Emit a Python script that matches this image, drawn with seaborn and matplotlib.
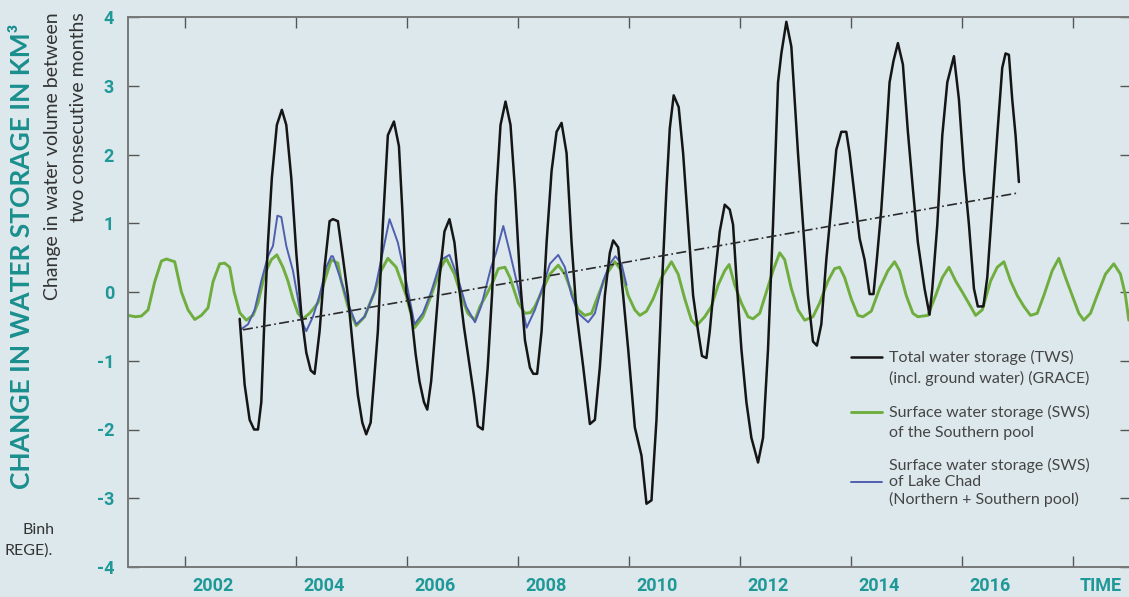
import numpy as np
import pandas as pd
import matplotlib
matplotlib.use("Agg")
import matplotlib.pyplot as plt
import seaborn as sns

# time axis is decimal years, values are km3 change between two consecutive months

# Total water storage (GRACE)
tws_t = [2002.48, 2002.57, 2002.66, 2002.74, 2002.81, 2002.87, 2002.93, 2002.99, 2003.06, 2003.15,
         2003.24, 2003.32, 2003.41, 2003.50, 2003.59, 2003.68, 2003.76, 2003.83, 2003.92, 2004.01,
         2004.10, 2004.16, 2004.25, 2004.34, 2004.43, 2004.52, 2004.61, 2004.69, 2004.76, 2004.84,
         2004.90, 2004.97, 2005.06, 2005.15, 2005.26, 2005.35, 2005.41, 2005.48, 2005.57, 2005.65,
         2005.72, 2005.80, 2005.86, 2005.93, 2006.01, 2006.08, 2006.17, 2006.26, 2006.35, 2006.43,
         2006.52, 2006.61, 2006.70, 2006.77, 2006.86, 2006.95, 2007.03, 2007.10, 2007.18, 2007.27,
         2007.36, 2007.44, 2007.53, 2007.62, 2007.71, 2007.77, 2007.84, 2007.92, 2008.01, 2008.10,
         2008.19, 2008.28, 2008.37, 2008.46, 2008.55, 2008.67, 2008.79, 2008.88, 2008.97, 2009.06,
         2009.15, 2009.21, 2009.30, 2009.39, 2009.48, 2009.60, 2009.72, 2009.81, 2009.90, 2009.99,
         2010.08, 2010.17, 2010.23, 2010.30, 2010.39, 2010.47, 2010.56, 2010.65, 2010.74, 2010.81,
         2010.89, 2010.95, 2011.04, 2011.13, 2011.22, 2011.31, 2011.37, 2011.43, 2011.52, 2011.61,
         2011.70, 2011.82, 2011.91, 2012.00, 2012.09, 2012.18, 2012.24, 2012.33, 2012.42, 2012.48,
         2012.54, 2012.63, 2012.72, 2012.81, 2012.88, 2012.96, 2013.05, 2013.14, 2013.23, 2013.32,
         2013.41, 2013.47, 2013.56, 2013.65, 2013.74, 2013.83, 2013.90, 2013.96, 2014.04, 2014.11,
         2014.19, 2014.26, 2014.34, 2014.43, 2014.52, 2014.61, 2014.70, 2014.82, 2014.91, 2014.96,
         2015.05, 2015.14, 2015.23, 2015.35, 2015.44, 2015.53, 2015.62, 2015.71, 2015.78, 2015.88,
         2015.95, 2016.04, 2016.13, 2016.22, 2016.28, 2016.34, 2016.40, 2016.46, 2016.52]
tws_v = [-0.39, -1.35, -1.86, -2.00, -2.00, -1.60, -0.31, 0.72, 1.66, 2.43,
         2.65, 2.43, 1.66, 0.57, -0.31, -0.88, -1.14, -1.19, -0.57, 0.36,
         1.03, 1.06, 1.03, 0.50, -0.05, -0.80, -1.50, -1.90, -2.07, -1.90,
         -1.30, -0.57, 0.98, 2.28, 2.48, 2.12, 1.20, 0.00, -0.31, -0.90,
         -1.30, -1.60, -1.71, -1.30, -0.50, 0.20, 0.88, 1.06, 0.72, 0.10,
         -0.50, -1.00, -1.50, -1.95, -2.00, -1.09, 0.00, 1.40, 2.43, 2.77,
         2.43, 1.50, 0.21, -0.70, -1.10, -1.19, -1.19, -0.57, 0.72, 1.76,
         2.33, 2.46, 2.02, 0.72, -0.31, -1.09, -1.92, -1.86, -1.09, -0.05,
         0.57, 0.75, 0.65, -0.05, -0.83, -1.97, -2.38, -3.08, -3.03, -1.86,
         -0.05, 1.50, 2.38, 2.86, 2.69, 2.02, 0.98, -0.05, -0.57, -0.93,
         -0.96, -0.57, 0.21, 0.88, 1.27, 1.20, 0.98, 0.21, -0.83, -1.60,
         -2.12, -2.48, -2.12, -0.83, 0.98, 3.05, 3.47, 3.93, 3.57, 2.80,
         2.02, 0.98, -0.05, -0.72, -0.78, -0.47, 0.47, 1.24, 2.07, 2.33,
         2.33, 2.02, 1.40, 0.78, 0.47, -0.03, -0.03, 0.47, 1.19, 2.02,
         3.05, 3.36, 3.62, 3.31, 2.33, 1.50, 0.72, 0.05, -0.33, 0.05,
         0.98, 2.28, 3.05, 3.43, 2.80, 1.76, 0.98, 0.05, -0.21, -0.21,
         0.21, 1.24, 2.28, 3.26, 3.47, 3.45, 2.80, 2.28, 1.60]

# Surface water storage, Southern pool
sws_s_t = [2000.47, 2000.60, 2000.71, 2000.83, 2000.95, 2001.07, 2001.16, 2001.31, 2001.43, 2001.55,
           2001.67, 2001.79, 2001.91, 2002.00, 2002.12, 2002.21, 2002.30, 2002.38, 2002.48, 2002.60,
           2002.72, 2002.81, 2002.93, 2003.05, 2003.15, 2003.26, 2003.35, 2003.44, 2003.53, 2003.62,
           2003.74, 2003.89, 2004.01, 2004.13, 2004.25, 2004.31, 2004.43, 2004.58, 2004.73, 2004.91,
           2005.03, 2005.15, 2005.30, 2005.48, 2005.63, 2005.78, 2005.93, 2006.11, 2006.20, 2006.35,
           2006.47, 2006.59, 2006.72, 2006.81, 2006.92, 2007.05, 2007.14, 2007.26, 2007.35, 2007.50,
           2007.62, 2007.72, 2007.80, 2007.95, 2008.07, 2008.22, 2008.34, 2008.46, 2008.58, 2008.70,
           2008.82, 2008.94, 2009.09, 2009.24, 2009.36, 2009.48, 2009.60, 2009.69, 2009.81, 2009.93,
           2010.08, 2010.26, 2010.38, 2010.50, 2010.62, 2010.71, 2010.86, 2010.98, 2011.10, 2011.22,
           2011.30, 2011.40, 2011.52, 2011.64, 2011.73, 2011.85, 2011.97, 2012.09, 2012.21, 2012.30,
           2012.42, 2012.54, 2012.66, 2012.81, 2012.93, 2013.08, 2013.20, 2013.29, 2013.38, 2013.50,
           2013.62, 2013.71, 2013.86, 2014.01, 2014.16, 2014.28, 2014.37, 2014.49, 2014.61, 2014.70,
           2014.88, 2015.02, 2015.14, 2015.26, 2015.38, 2015.50, 2015.65, 2015.74, 2015.86, 2016.01,
           2016.13, 2016.25, 2016.37, 2016.49, 2016.61, 2016.73, 2016.85, 2016.97, 2017.12, 2017.24,
           2017.36, 2017.48, 2017.60, 2017.69, 2017.81, 2017.93, 2018.08, 2018.23, 2018.35, 2018.44,
           2018.50]
sws_s_v = [-0.34, -0.36, -0.35, -0.26, 0.15, 0.45, 0.48, 0.44, 0.00, -0.26,
           -0.40, -0.34, -0.23, 0.15, 0.41, 0.42, 0.36, 0.00, -0.30, -0.41,
           -0.34, -0.16, 0.26, 0.47, 0.54, 0.36, 0.16, -0.10, -0.31, -0.39,
           -0.31, -0.16, 0.16, 0.47, 0.42, 0.16, -0.21, -0.49, -0.36, 0.00,
           0.31, 0.49, 0.36, -0.05, -0.52, -0.36, -0.05, 0.36, 0.49, 0.26,
           -0.05, -0.31, -0.41, -0.21, -0.05, 0.16, 0.34, 0.36, 0.21, -0.16,
           -0.31, -0.30, -0.21, 0.05, 0.26, 0.39, 0.26, 0.00, -0.26, -0.34,
           -0.31, -0.05, 0.26, 0.44, 0.31, -0.05, -0.26, -0.34, -0.28, -0.10,
           0.21, 0.44, 0.26, -0.10, -0.41, -0.49, -0.36, -0.21, 0.10, 0.31,
           0.40, 0.10, -0.16, -0.36, -0.39, -0.31, 0.00, 0.31, 0.57, 0.47,
           0.05, -0.26, -0.41, -0.36, -0.16, 0.16, 0.34, 0.36, 0.21, -0.10,
           -0.34, -0.36, -0.28, 0.05, 0.31, 0.44, 0.31, -0.05, -0.31, -0.36,
           -0.34, -0.05, 0.21, 0.36, 0.16, 0.00, -0.21, -0.34, -0.26, 0.16,
           0.36, 0.44, 0.16, -0.05, -0.21, -0.34, -0.31, -0.05, 0.31, 0.49,
           0.21, -0.05, -0.31, -0.41, -0.31, -0.05, 0.26, 0.41, 0.26, -0.05,
           -0.41]

# Surface water storage, Lake Chad (Northern + Southern pool)
sws_l_t = [2002.51, 2002.63, 2002.75, 2002.87, 2002.99, 2003.08, 2003.16, 2003.23, 2003.32, 2003.44,
           2003.53, 2003.59, 2003.68, 2003.80, 2003.92, 2004.04, 2004.13, 2004.16, 2004.31, 2004.43,
           2004.58, 2004.73, 2004.91, 2005.03, 2005.18, 2005.33, 2005.48, 2005.63, 2005.78, 2005.93,
           2006.11, 2006.26, 2006.41, 2006.56, 2006.72, 2006.83, 2007.01, 2007.10, 2007.23, 2007.35,
           2007.50, 2007.65, 2007.80, 2007.95, 2008.07, 2008.22, 2008.34, 2008.46, 2008.58, 2008.76,
           2008.88, 2009.03, 2009.15, 2009.25, 2009.36, 2009.45]
sws_l_v = [-0.54, -0.47, -0.26, 0.16, 0.52, 0.67, 1.11, 1.09, 0.67, 0.31,
           -0.10, -0.41, -0.57, -0.36, -0.05, 0.36, 0.52, 0.52, 0.16, -0.16,
           -0.47, -0.36, 0.00, 0.47, 1.06, 0.72, 0.16, -0.47, -0.31, 0.00,
           0.47, 0.54, 0.21, -0.21, -0.44, -0.21, 0.36, 0.57, 0.96, 0.57,
           0.05, -0.52, -0.26, 0.10, 0.41, 0.54, 0.36, -0.05, -0.31, -0.44,
           -0.31, 0.16, 0.41, 0.52, 0.41, 0.10]

# linear trend of TWS
trend_t = [2002.54, 2016.50]
trend_v = [-0.55, 1.44]

year_labels = [2002, 2004, 2006, 2008, 2010, 2012, 2014, 2016]

teal = "#1f9898"
sns.set_theme(style="ticks")
plt.rcParams["font.family"] = ["Lato", "DejaVu Sans"]
plt.rcParams["axes.unicode_minus"] = False

fig = plt.figure(figsize=(11.29, 5.97), dpi=100)
fig.patch.set_facecolor("#dde8ec")
ax = fig.add_axes([128 / 1129, 30 / 597, 1003 / 1129, 550 / 597])
ax.set_facecolor("#dde8ec")

sns.lineplot(x=sws_s_t, y=sws_s_v, ax=ax, color="#6fae3e", lw=2.1, estimator=None, sort=False)
sns.lineplot(x=sws_l_t, y=sws_l_v, ax=ax, color="#4f5fb0", lw=1.4, estimator=None, sort=False)
sns.lineplot(x=tws_t, y=tws_v, ax=ax, color="#151515", lw=1.8, estimator=None, sort=False)
sns.lineplot(x=trend_t, y=trend_v, ax=ax, color="#2a2a2a", lw=1.2, linestyle=(0, (6, 2, 1, 2)),
             estimator=None, sort=False)

ax.set_xlim(2000.468, 2018.54)
ax.set_ylim(-4, 4)

# tick marks between labels, labels at the years
ax.set_xticks(year_labels + [2018])
ax.set_xticklabels([str(y) for y in year_labels] + ["TIME"])
ax.set_xticks(np.arange(2001.5, 2018, 2), minor=True)
ax.tick_params(axis="x", which="major", length=0, pad=7, labelsize=13, labelcolor=teal)
ax.tick_params(axis="x", which="minor", direction="in", length=8, width=1, color="#555555",
               top=True, bottom=True)
ax.set_yticks(range(-4, 5))
ax.tick_params(axis="y", direction="in", length=8, width=1, color="#555555", left=True, right=True,
               pad=10, labelsize=13, labelcolor=teal)
for lab in ax.get_xticklabels() + ax.get_yticklabels():
    lab.set_fontfamily(["Roboto", "DejaVu Sans"])
    lab.set_fontweight("bold")

for s in ax.spines.values():
    s.set_color("#777777")
    s.set_linewidth(1.4)

ax.set_xlabel("")
ax.set_ylabel("")

# y titles
fig.text(22 / 1129, 1 - 256 / 597, "CHANGE IN WATER STORAGE IN KM³", rotation=90, color="#1a8e8e",
         fontsize=19, fontweight="bold", ha="center", va="center")
fig.text(53 / 1129, 1 - 12 / 597, "Change in water volume between", rotation=90, color="#333333",
         fontsize=14, ha="right", va="center", rotation_mode="anchor")
fig.text(79 / 1129, 1 - 12 / 597, "two consecutive months", rotation=90, color="#333333",
         fontsize=14, ha="right", va="center", rotation_mode="anchor")

# cut-off source note
fig.text(55 / 1129, 1 - 530 / 597, "Binh", color="#333333", fontsize=11.5, ha="right", va="center")
fig.text(53 / 1129, 1 - 551 / 597, "REGE).", color="#333333", fontsize=11.5, ha="right", va="center")

# legend
def ax_y(py):
    return (567 - py) / 550


def ax_x(px):
    return (px - 128) / 1003


entries = [
    ("#151515", 1.8, 357, [(357, "Total water storage (TWS)"), (378, "(incl. ground water) (GRACE)")]),
    ("#6fae3e", 2.1, 412, [(412, "Surface water storage (SWS)"), (433, "of the Southern pool")]),
    ("#4f5fb0", 1.4, 482, [(465, "Surface water storage (SWS)"), (482, "of Lake Chad"),
                           (499, "(Northern + Southern pool)")]),
]
for col, lw, hy, lines in entries:
    ax.plot([ax_x(851), ax_x(882)], [ax_y(hy), ax_y(hy)], color=col, lw=lw, transform=ax.transAxes)
    for py, txt in lines:
        ax.text(ax_x(889), ax_y(py), txt, transform=ax.transAxes, fontsize=11.5, color="#454545",
                ha="left", va="center")

fig.savefig("out.png", dpi=100, facecolor=fig.get_facecolor())
